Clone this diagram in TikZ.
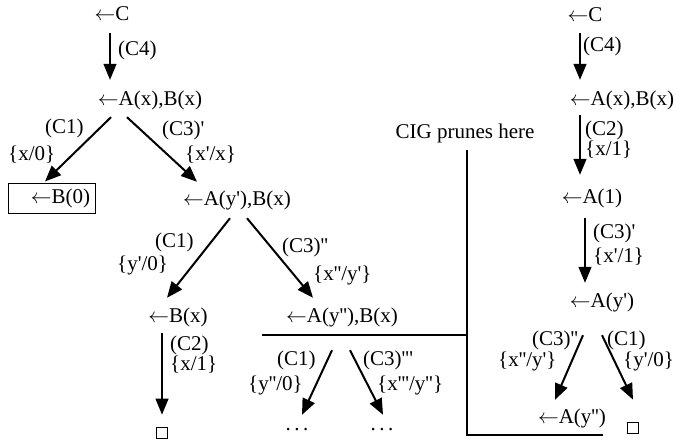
\documentclass[tikz,border=0pt]{standalone}
\usepackage{fontspec}
\setmainfont{Liberation Serif}[Ligatures=TeXOff]
\usetikzlibrary{arrows.meta}
\newcommand{\larr}{$\leftarrow$}

\begin{document}
\begin{tikzpicture}[x=1pt, y=-1pt,
        font=\fontsize{21}{24}\selectfont,
        clause/.style={inner sep=0pt, text height=15pt, text depth=5pt},
        lbl/.style={anchor=west, inner sep=0pt},
        empty/.style={draw, line width=0.8pt, minimum size=11pt, inner sep=0pt},
        arrow/.style={-{Triangle[length=16pt, width=13pt]}, line width=1.2pt},
        slant/.style={arrow, line width=2pt},
        cut/.style={line width=1.2pt}
      ]
        \useasboundingbox (0,0) rectangle (676,444);

        % left tree
        \node[clause] (lc) at (112,16) {\larr C};
        \node[clause] (la) at (150,100) {\larr A(x),B(x)};
        \node[draw, line width=1pt, inner sep=0pt, minimum width=87pt, minimum height=30pt] (lb0) at (52,198) {\hspace*{17pt}\larr B(0)};
        \node[clause] (lay) at (237,200) {\larr A(y'),B(x)};
        \node[clause] (lbx) at (178,317) {\larr B(x)};
        \node[clause] (lay2) at (342,317) {\larr A(y''),B(x)};
        \node[empty] (lsq) at (162,433) {};
        \node[clause] (ld1) at (297,425) {.\,.\,.};
        \node[clause] (ld2) at (382,425) {.\,.\,.};

        \node[lbl] (c4l) at (118,50) {(C4)};
        \node[lbl] (c1a) at (45,128) {(C1)};
        \node[lbl] (s1a) at (8,155) {\{x/0\}};
        \node[lbl] (c3a) at (162,130) {(C3)'};
        \node[lbl] (s3a) at (185,155) {\{x'/x\}};
        \node[lbl] (c1b) at (155,242) {(C1)};
        \node[lbl] (s1b) at (117,265) {\{y'/0\}};
        \node[lbl] (c3b) at (282,247) {(C3)''};
        \node[lbl] (s3b) at (313,275) {\{x''/y'\}};
        \node[lbl] (c2l) at (170,345) {(C2)};
        \node[lbl] (s2l) at (170,365) {\{x/1\}};
        \node[lbl] (c1c) at (277,360) {(C1)};
        \node[lbl] (s1c) at (248,385) {\{y''/0\}};
        \node[lbl] (c3c) at (363,360) {(C3)'''};
        \node[lbl] (s3c) at (377,385) {\{x'''/y''\}};

        \draw[arrow] ([shift={(-2,7)}]lc.south) -- ([shift={(-40,-10)}]la.north);
        \draw[slant] ([shift={(-39,7)}]la.south) -- ([shift={(-7,-1)}]lb0.north);
        \draw[slant] ([shift={(-23,7)}]la.south) -- ([shift={(-40,-8)}]lay.north);
        \draw[slant] ([shift={(-7,8)}]lay.south) -- ([shift={(-11,-9)}]lbx.north);
        \draw[slant] ([shift={(10,8)}]lay.south) -- ([shift={(-29,-9)}]lay2.north);
        \draw[arrow] ([shift={(-16,6)}]lbx.south) -- ([shift={(0,-12.5)}]lsq.north);
        \draw[slant] ([shift={(-10,23)}]lay2.south) -- ([shift={(5,0)}]ld1.north);
        \draw[slant] ([shift={(8,23)}]lay2.south) -- ([shift={(1,0)}]ld2.north);

        % right tree
        \node[clause] (rc) at (585,17) {\larr C};
        \node[clause] (ra) at (622,100) {\larr A(x),B(x)};
        \node[clause] (r1) at (592,198) {\larr A(1)};
        \node[clause] (ry) at (602,302) {\larr A(y')};
        \node[clause] (ry2) at (572,418) {\larr A(y'')};
        \node[empty] (rsq) at (633,428) {};

        \node[lbl] (c4r) at (583,46) {(C4)};
        \node[lbl] (c2r) at (585,130) {(C2)};
        \node[lbl] (s2r) at (585,150) {\{x/1\}};
        \node[lbl] (c3r) at (593,233) {(C3)'};
        \node[lbl] (s3r) at (593,257) {\{x'/1\}};
        \node[lbl] (c3s) at (532,340) {(C3)''};
        \node[lbl] (s3s) at (498,361) {\{x''/y'\}};
        \node[lbl] (c1r) at (607,340) {(C1)};
        \node[lbl] (s1r) at (623,361) {\{y'/0\}};

        \draw[arrow] ([shift={(-5,6)}]rc.south) -- ([shift={(-42,-10)}]ra.north);
        \draw[arrow] ([shift={(-42,5)}]ra.south) -- ([shift={(-12,-13)}]r1.north);
        \draw[arrow] ([shift={(-7,10)}]r1.south) -- ([shift={(-17,-9)}]ry.north);
        \draw[slant] ([shift={(-19,23)}]ry.south) -- ([shift={(-17,-8)}]ry2.north);
        \draw[slant] ([shift={(0,23)}]ry.south) -- ([shift={(0,-22.5)}]rsq.north);

        % pruning mark
        \node[clause] (cig) at (465,133) {CIG prunes here};
        \draw[cut] (262,335) -- (467,335);
        \draw[cut] ([shift={(2,7)}]cig.south) -- (467,435) -- (603,435);
      \end{tikzpicture}
\end{document}
